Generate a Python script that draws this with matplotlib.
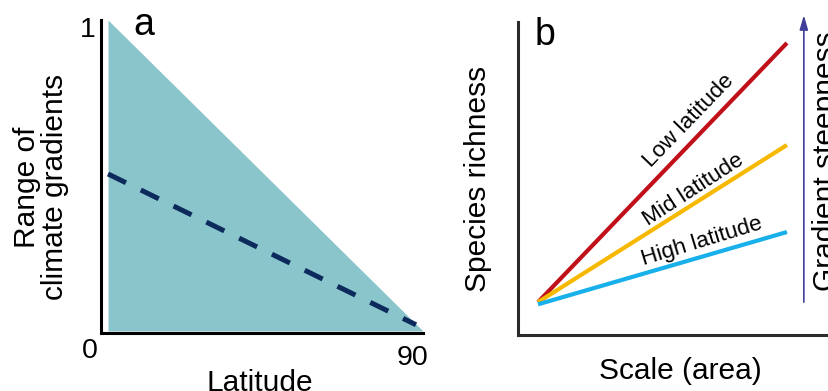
import matplotlib
matplotlib.use('Agg')
import matplotlib.pyplot as plt

plt.rcParams['font.family'] = ['Liberation Sans', 'DejaVu Sans']

# panel a: range of climate gradients vs latitude
lat = [0, 90]
grad_range = [1, 0]
lat_mean = [0, 88]
grad_mean = [0.505, 0.02]

# panel b: species richness vs scale
scale = [1, 10]
rich_low = [10.5, 93.3]
rich_mid = [10.5, 60.7]
rich_high = [9.8, 32.9]
line_names = ['Low latitude', 'Mid latitude', 'High latitude']
line_colors = ['#c0101a', '#f7b800', '#17b0ea']

W, H = 829, 391
fig = plt.figure(figsize=(W / 100, H / 100), dpi=100)


def fx(x):
    return x / W


def fy(y):
    return 1 - y / H


# ---- panel a ----
ax1 = fig.add_axes([fx(101), fy(333), 322 / W, 313 / H])
ax1.fill_between(lat, grad_range, 0, color='#8bc5cc', lw=0)
ax1.plot(lat_mean, grad_mean, color='#0c2a5c', lw=3.6, dashes=(4, 3.3))
ax1.set_xlim(-2.0, 90)
ax1.set_ylim(-0.0065, 1)
for s in ['top', 'right']:
    ax1.spines[s].set_visible(False)
for s in ['left', 'bottom']:
    ax1.spines[s].set_linewidth(2.2)
    ax1.spines[s].set_color('black')
ax1.set_xticks([])
ax1.set_yticks([])

fs = 21.5
fig.text(fx(88), fy(37), '1', fontsize=20.5, ha='center', va='baseline')
fig.text(fx(90), fy(358), '0', fontsize=20.5, ha='center', va='baseline')
fig.text(fx(412.5), fy(365), '90', fontsize=20.5, ha='center', va='baseline')
fig.text(fx(144), fy(35), 'a', fontsize=27, ha='center', va='baseline')
fig.text(fx(260), fy(369), 'Latitude', fontsize=fs, ha='center', va='top')
fig.text(fx(41), fy(187), 'Range of\nclimate gradients', fontsize=fs,
         ha='center', va='center', rotation=90, linespacing=1.0,
         multialignment='center')

# ---- panel b ----
ax2 = fig.add_axes([fx(518), fy(335), 311 / W, 313 / H])
for r, c in zip([rich_low, rich_mid, rich_high], line_colors):
    ax2.plot(scale, r, color=c, lw=3.0, solid_capstyle='butt')
ax2.set_xlim(0.277, 11.52)
ax2.set_ylim(0, 100)
for s in ['top', 'right']:
    ax2.spines[s].set_visible(False)
for s in ['left', 'bottom']:
    ax2.spines[s].set_linewidth(2.2)
    ax2.spines[s].set_color('#2b2b2b')
ax2.set_xticks([])
ax2.set_yticks([])

label_pos = [(6.457, 68.4, 46), (6.638, 46.3, 33), (6.928, 29.7, 17)]
for name, (x, y, ang) in zip(line_names, label_pos):
    ax2.text(x, y, name, fontsize=16.2, rotation=ang, rotation_mode='anchor',
             ha='center', va='center')

ax2.annotate('', xy=(10.61, 102.2), xytext=(10.61, 10.5),
             arrowprops=dict(arrowstyle='-|>,head_length=0.86,head_width=0.25',
                             color='#3f3f9a', lw=1.2, mutation_scale=10,
                             shrinkA=0, shrinkB=0),
             annotation_clip=False)
ax2.text(11.41, 13.9, 'Gradient steepness', fontsize=fs, rotation=90,
         ha='center', va='bottom', clip_on=False)

fig.text(fx(545), fy(45), 'b', fontsize=27, ha='center', va='baseline')
fig.text(fx(478), fy(179), 'Species richness', fontsize=fs, ha='center',
         va='center', rotation=90)
fig.text(fx(680), fy(357), 'Scale (area)', fontsize=fs, ha='center', va='top')

fig.savefig('out.png', dpi=100)
